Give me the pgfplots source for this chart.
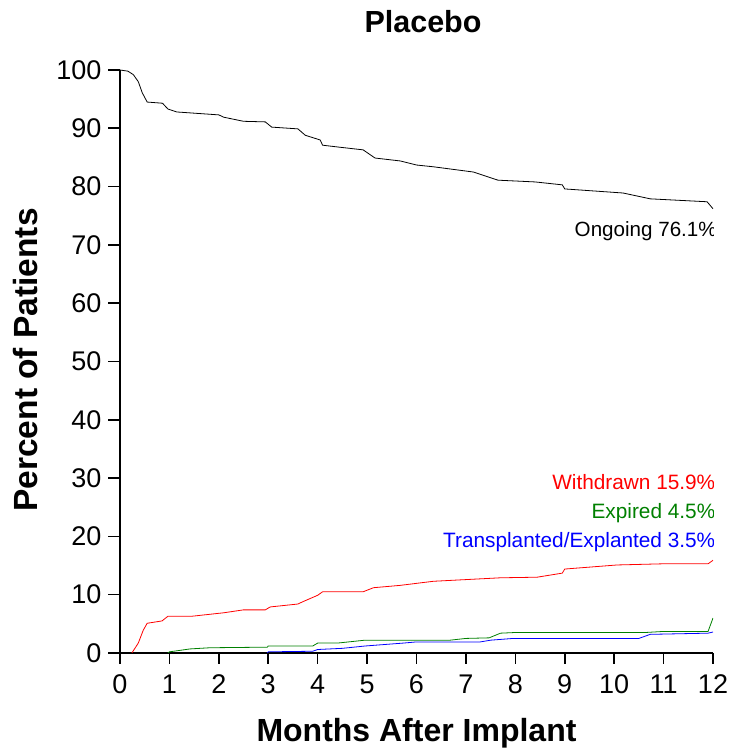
\documentclass[border=0pt]{standalone}
\usepackage{fontspec}
\setmainfont{Liberation Sans}
\usepackage{pgfplots}
\pgfplotsset{compat=1.18}
\definecolor{cRed}{RGB}{255,0,0}
\definecolor{cGreen}{RGB}{0,128,0}
\definecolor{cBlue}{RGB}{0,0,255}
\begin{document}
\begin{tikzpicture}
\path (0pt,0pt) rectangle (735pt,752pt);
\begin{axis}[
  at={(120pt,99pt)}, anchor=south west,
  scale only axis, width=593pt, height=583pt,
  xmin=0, xmax=12, ymin=0, ymax=100,
  axis lines=left,
  axis line style={line width=1.6pt, -},
  tick align=outside,
  tick style={black, line width=1.6pt},
  major tick length=11pt,
  xtick={0,1,...,12}, ytick={0,10,...,100},
  xticklabel={\pgfmathprintnumber[assume math mode=true]{\tick}},
  yticklabel={\pgfmathprintnumber[assume math mode=true]{\tick}},
  ticklabel style={font=\fontsize{27pt}{32pt}\selectfont},
  xticklabel style={yshift=-7pt},
  yticklabel style={xshift=-4pt},
]
\addplot[black, line width=0.8pt] coordinates {
(0,100) (0.16,99.8) (0.27,99.2) (0.37,98.0) (0.45,96.1) (0.55,94.5) (0.86,94.3)
(0.97,93.3) (1.15,92.8) (2.0,92.3) (2.1,91.9) (2.5,91.2) (2.94,91.1) (3.07,90.2)
(3.6,89.9) (3.75,88.8) (4.05,88.0) (4.1,87.1) (4.4,86.8) (4.92,86.3) (5.16,84.9)
(5.67,84.4) (6.0,83.7) (6.34,83.4) (7.15,82.5) (7.65,81.1) (8.4,80.8) (8.95,80.3)
(9.0,79.6) (10.18,78.9) (10.73,77.9) (11.88,77.4) (12.0,76.2)};
\addplot[cRed, line width=0.8pt] coordinates {
(0.24,0) (0.37,1.7) (0.47,3.9) (0.55,5.1) (0.85,5.5) (0.97,6.3) (1.45,6.3)
(2.1,6.9) (2.5,7.4) (2.94,7.4) (3.04,7.9) (3.6,8.4) (3.7,8.8) (4.0,9.9) (4.1,10.5)
(4.92,10.5) (5.13,11.2) (5.67,11.6) (6.34,12.3) (7.7,12.9) (8.44,13.0) (8.95,13.7)
(9.0,14.4) (10.06,15.1) (10.99,15.3) (11.9,15.3) (12.0,15.9)};
\addplot[cGreen, line width=0.8pt] coordinates {
(0.97,0) (1.0,0.2) (1.42,0.7) (1.82,0.9) (2.98,1.0) (3.0,1.2) (3.9,1.2) (4.0,1.7)
(4.4,1.7) (4.96,2.2) (6.68,2.2) (7.0,2.5) (7.47,2.6) (7.7,3.4) (7.96,3.5)
(10.6,3.5) (11.0,3.7) (11.9,3.7) (12.0,6.0)};
\addplot[cBlue, line width=0.8pt] coordinates {
(2.98,0) (3.0,0.2) (3.9,0.3) (4.0,0.6) (4.5,0.8) (4.96,1.2) (5.73,1.7) (6.0,1.9)
(7.29,1.9) (7.5,2.2) (7.96,2.5) (10.5,2.5) (10.73,3.2) (11.9,3.4) (12.0,3.6)};
\node[anchor=base east, inner sep=0pt, font=\fontsize{20.6pt}{24pt}\selectfont] at (axis cs:12.08,71.4) {Ongoing 76.1\%};
\node[anchor=base east, inner sep=0pt, text=cRed, font=\fontsize{20.8pt}{24pt}\selectfont] at (axis cs:12.05,28.1) {Withdrawn 15.9\%};
\node[anchor=base east, inner sep=0pt, text=cGreen, font=\fontsize{20.8pt}{24pt}\selectfont] at (axis cs:12.05,23.1) {Expired 4.5\%};
\node[anchor=base east, inner sep=0pt, text=cBlue, font=\fontsize{20.8pt}{24pt}\selectfont] at (axis cs:12.05,18.1) {Transplanted/Explanted 3.5\%};
\end{axis}
\foreach \i in {0,...,12} {\draw[black, line width=1.6pt] ({120pt+\i*593pt/12},99pt) -- ++(0pt,-11pt);}
\foreach \j in {0,...,10} {\draw[black, line width=1.6pt] (120pt,{99pt+\j*58.3pt}) -- ++(-12pt,0pt);}
\node[anchor=base, inner sep=0pt, font=\fontsize{30.5pt}{36pt}\selectfont\bfseries] at (423pt,719pt) {Placebo};
\node[anchor=base, inner sep=0pt, font=\fontsize{32pt}{38pt}\selectfont\bfseries] at (416.5pt,10pt) {Months After Implant};
\node[anchor=base, rotate=90, inner sep=0pt, font=\fontsize{33.5pt}{38pt}\selectfont\bfseries] at (37pt,392pt) {Percent of Patients};
\end{tikzpicture}
\end{document}
